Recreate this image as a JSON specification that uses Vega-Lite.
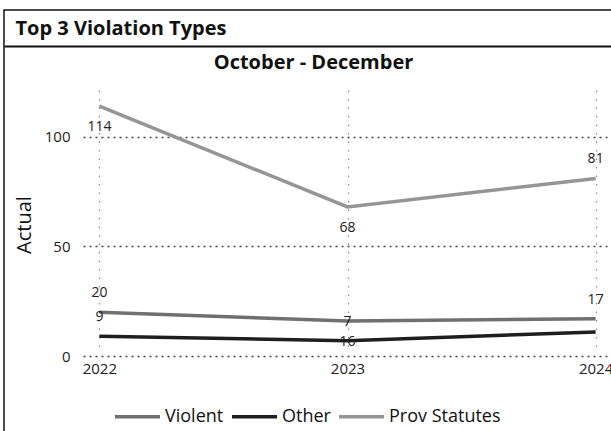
{
  "$schema": "https://vega.github.io/schema/vega-lite/v6.json",
  "autosize": "none",
  "padding": {"left": 4, "top": 10, "right": 0, "bottom": 0},
  "background": "white",
  "width": 612,
  "height": 426,
  "config": {
    "font": "Open Sans",
    "view": {"stroke": "#111111", "strokeWidth": 1.5}
  },
  "data": {
    "values": [
      {"year": "2022", "type": "Prov Statutes", "value": 114},
      {"year": "2023", "type": "Prov Statutes", "value": 68},
      {"year": "2024", "type": "Prov Statutes", "value": 81},
      {"year": "2022", "type": "Violent", "value": 20},
      {"year": "2023", "type": "Violent", "value": 16},
      {"year": "2024", "type": "Violent", "value": 17},
      {"year": "2022", "type": "Other", "value": 9},
      {"year": "2023", "type": "Other", "value": 7},
      {"year": "2024", "type": "Other", "value": 11}
    ]
  },
  "layer": [
    {
      "encoding": {
        "x": {
          "field": "year",
          "type": "ordinal",
          "scale": {"type": "point", "range": [79, 608], "padding": 0.066},
          "axis": {
            "title": null,
            "orient": "bottom",
            "labelAngle": 0,
            "offset": -80,
            "domain": false,
            "ticks": false,
            "labelPadding": 5,
            "labelFontSize": 15,
            "labelColor": "#222222",
            "labelFont": "Open Sans",
            "grid": true,
            "gridColor": "#8a8a8a",
            "gridDash": [1.5, 7],
            "gridWidth": 1.2
          }
        },
        "y": {
          "field": "value",
          "type": "quantitative",
          "scale": {"domain": [0, 120], "range": [346, 83], "nice": false},
          "axis": {
            "title": "Actual",
            "titleFontSize": 20,
            "titleFontWeight": "normal",
            "titleColor": "#111111",
            "titleFont": "Open Sans",
            "titlePadding": 10,
            "values": [0, 50, 100],
            "offset": -79,
            "domain": false,
            "ticks": false,
            "labelPadding": 13,
            "labelFontSize": 15,
            "labelColor": "#222222",
            "labelFont": "Open Sans",
            "grid": true,
            "gridColor": "#444444",
            "gridDash": [2, 4],
            "gridWidth": 1.5
          }
        },
        "color": {
          "field": "type",
          "type": "nominal",
          "scale": {
            "domain": ["Violent", "Other", "Prov Statutes"],
            "range": ["#707070", "#1e1e1e", "#959595"]
          },
          "legend": {
            "title": null,
            "orient": "none",
            "direction": "horizontal",
            "legendX": 109,
            "legendY": 382,
            "symbolType": "stroke",
            "symbolSize": 2025,
            "symbolStrokeWidth": 3.5,
            "labelFontSize": 18,
            "labelColor": "#111111",
            "labelFont": "Open Sans",
            "labelOffset": 3,
            "columnPadding": 1,
            "padding": 0
          }
        }
      },
      "layer": [
        {
          "mark": {"type": "line", "strokeWidth": 3.5}
        },
        {
          "transform": [
            {"filter": "!((datum.type == 'Prov Statutes' && datum.year != '2024') || (datum.type == 'Violent' && datum.year == '2023') || (datum.type == 'Other' && datum.year == '2024'))"}
          ],
          "mark": {"type": "text", "dy": -19, "fontSize": 14, "font": "Open Sans", "baseline": "middle"},
          "encoding": {"text": {"field": "value", "type": "quantitative"}, "color": {"value": "#222222"}}
        },
        {
          "transform": [
            {"filter": "(datum.type == 'Prov Statutes' && datum.year != '2024') || (datum.type == 'Violent' && datum.year == '2023')"}
          ],
          "mark": {"type": "text", "dy": 21, "fontSize": 14, "font": "Open Sans", "baseline": "middle"},
          "encoding": {"text": {"field": "value", "type": "quantitative"}, "color": {"value": "#222222"}}
        }
      ]
    },
    {
      "mark": {"type": "point", "opacity": 0},
      "encoding": {
        "x": {
          "field": "year",
          "type": "ordinal",
          "scale": {"type": "point", "range": [0, 612], "padding": 0},
          "axis": {
            "orient": "top",
            "offset": -36,
            "domain": true,
            "domainColor": "#111111",
            "domainWidth": 2,
            "labels": false,
            "ticks": false,
            "grid": false,
            "title": "October - December",
            "titleX": 309,
            "titleY": 16,
            "titleAlign": "center",
            "titleBaseline": "middle",
            "titleFontSize": 20,
            "titleFontWeight": "bold",
            "titleColor": "#111111",
            "titleFont": "Open Sans"
          }
        }
      }
    },
    {
      "mark": {"type": "point", "opacity": 0},
      "encoding": {
        "x": {
          "field": "year",
          "type": "ordinal",
          "scale": {"type": "point", "range": [0, 612], "padding": 0},
          "axis": {
            "orient": "top",
            "offset": 0,
            "domain": false,
            "labels": false,
            "ticks": false,
            "grid": false,
            "title": "Top 3 Violation Types",
            "titleX": 11,
            "titleY": 18,
            "titleAlign": "left",
            "titleBaseline": "middle",
            "titleFontSize": 20,
            "titleFontWeight": "bold",
            "titleColor": "#111111",
            "titleFont": "Open Sans"
          }
        }
      }
    }
  ],
  "resolve": {"scale": {"x": "independent"}, "axis": {"x": "independent"}}
}
